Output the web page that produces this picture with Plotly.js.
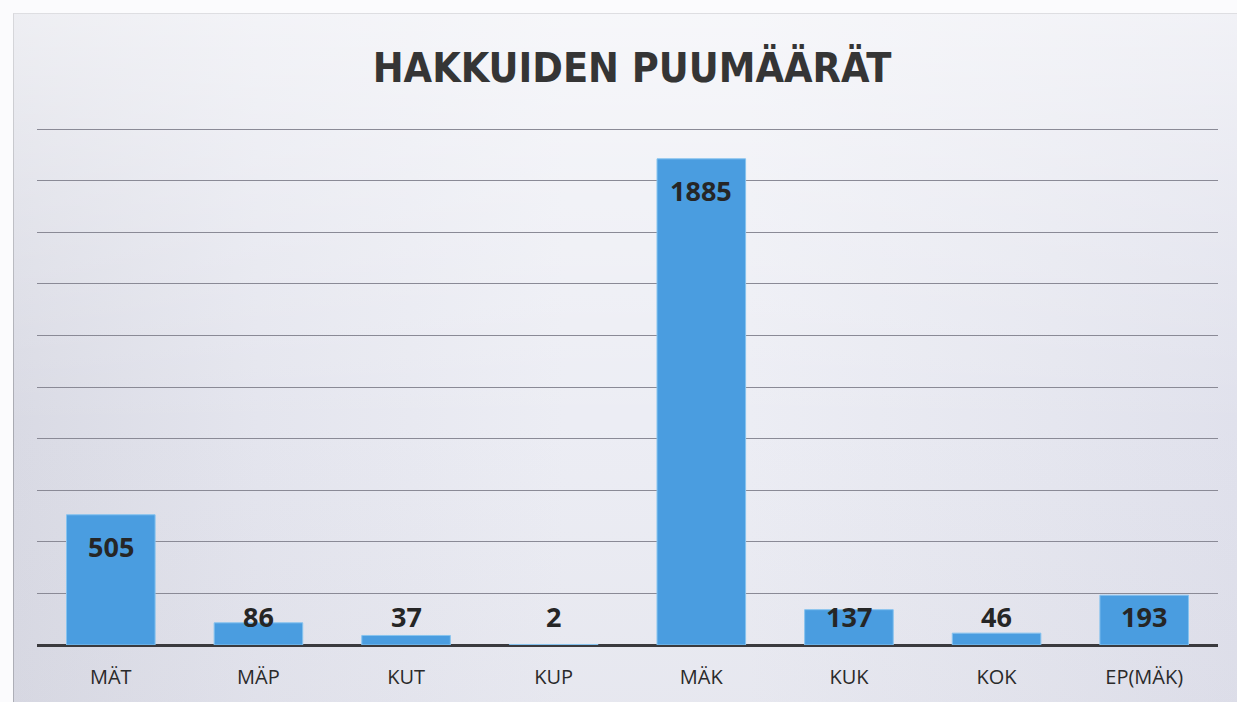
<!DOCTYPE html>
<html>
<head>
<meta charset="utf-8">
<script src="https://cdn.plot.ly/plotly-3.0.1.min.js"></script>
<style>
  html, body { margin: 0; padding: 0; width: 1237px; height: 702px; overflow: hidden; background: #fbfbfd; }
  #frame { position: absolute; left: 13px; top: 13px; width: 1224px; height: 689px;
    border-left: 1px solid #a9aab2; border-top: 1px solid #b5b6be;
    background: linear-gradient(90deg, #d9dae4 0%, #e4e5ee 20%, #ecedf4 45%, #ecedf4 60%, #e5e6ef 85%, #e0e1ec 100%); }
  #shade { position: absolute; left: 13px; top: 13px; width: 1224px; height: 689px;
    background: linear-gradient(180deg, rgba(255,255,255,0.55) 0%, rgba(255,255,255,0.25) 30%, rgba(255,255,255,0) 60%, rgba(200,200,212,0.15) 100%); }
  #chart { position: absolute; left: 0; top: 0; width: 1237px; height: 702px; }
</style>
</head>
<body>
<div id="frame"></div>
<div id="shade"></div>
<div id="chart"></div>
<script>
const categories = ["MÄT", "MÄP", "KUT", "KUP", "MÄK", "KUK", "KOK", "EP(MÄK)"];
const values = [505, 86, 37, 2, 1885, 137, 46, 193];
const titleText = "HAKKUIDEN PUUMÄÄRÄT";

const labelAnnotations = categories.map((c, i) => ({
  x: c,
  y: Math.max(values[i] - 124, 109),
  xref: 'x', yref: 'y',
  text: String(values[i]),
  showarrow: false,
  yanchor: 'middle',
  font: { family: 'Open Sans, sans-serif', size: 27, color: '#262626', weight: 'bold' }
}));

const trace = {
  type: 'bar',
  x: categories,
  y: values,
  marker: { color: '#4a9de0', line: { color: '#86c3ef', width: 1 } },
  hoverinfo: 'none'
};

const layout = {
  width: 1237, height: 702,
  paper_bgcolor: 'rgba(0,0,0,0)',
  plot_bgcolor: 'rgba(0,0,0,0)',
  margin: { l: 37, r: 19, t: 124, b: 57 },
  bargap: 0.4,
  showlegend: false,
  title: {
    text: titleText,
    x: 0.511, xanchor: 'center',
    y: 0.903, yanchor: 'middle',
    yref: 'container', xref: 'container',
    font: { family: 'DejaVu Sans Condensed, Open Sans, sans-serif', size: 41, color: '#353535', weight: 'bold' }
  },
  xaxis: {
    type: 'category',
    showgrid: false,
    zeroline: false,
    showline: false,
    ticks: '',
    ticklabelstandoff: 18,
    tickfont: { family: 'Open Sans, sans-serif', size: 20, color: '#2a2a2a' }
  },
  yaxis: {
    range: [0, 2020],
    dtick: 200,
    showticklabels: false,
    showgrid: true,
    gridcolor: '#8a8a96',
    gridwidth: 1,
    zeroline: true,
    zerolinecolor: '#3a3a3e',
    zerolinewidth: 3,
    ticks: ''
  },
  annotations: labelAnnotations
};

Plotly.newPlot('chart', [trace], layout, { displayModeBar: false, staticPlot: true });
</script>
</body>
</html>
